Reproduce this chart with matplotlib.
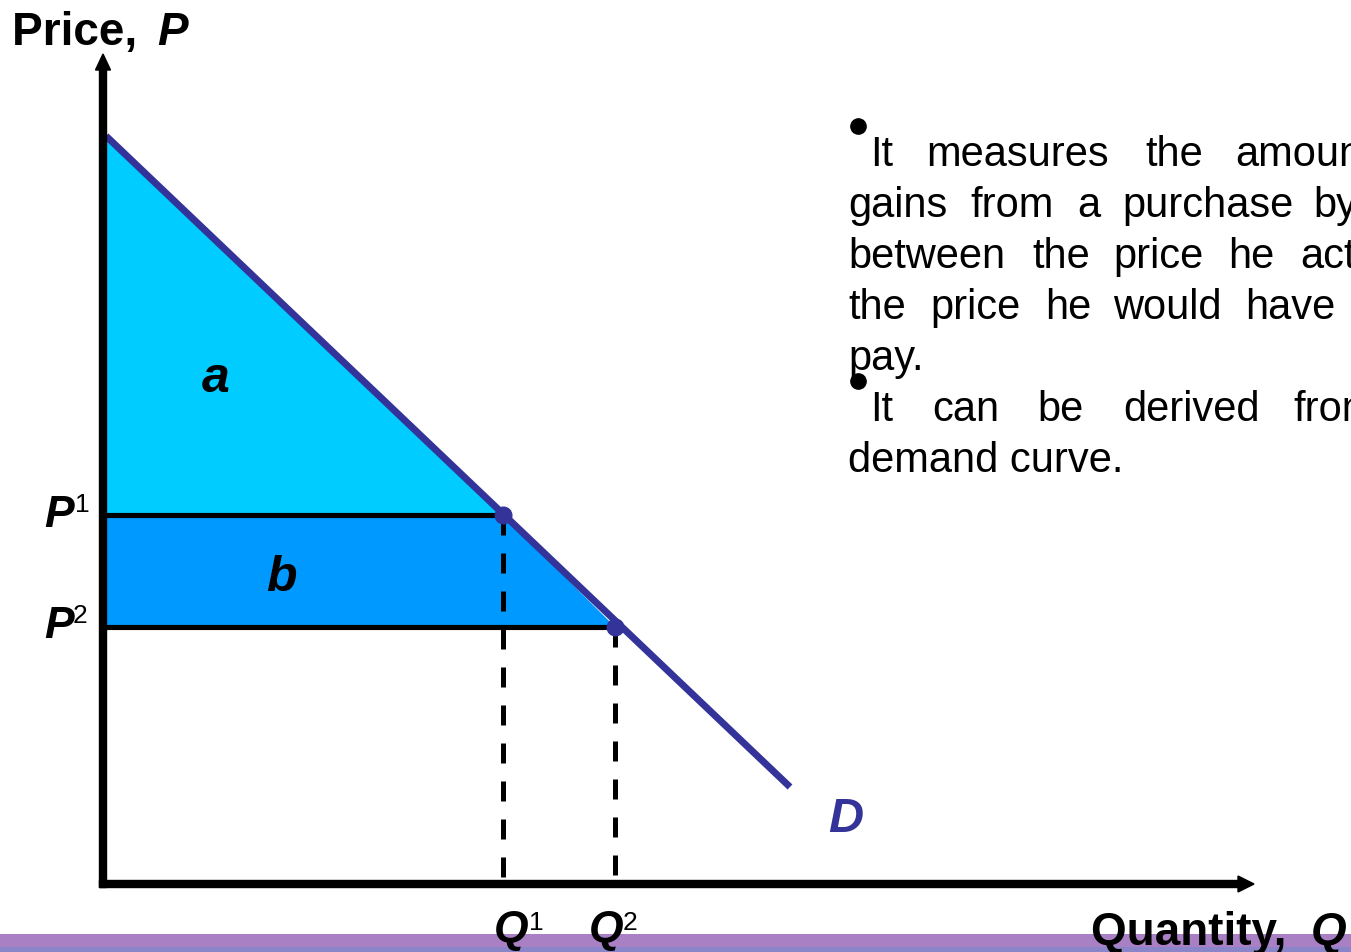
import matplotlib
matplotlib.use("Agg")
import matplotlib.pyplot as plt
from matplotlib.transforms import Affine2D
from matplotlib.patches import Polygon, Rectangle

plt.rcParams['font.family'] = ['Liberation Sans', 'DejaVu Sans']

# ---- data (in chart units) ----
demand_q = [0.03, 6.87]
demand_p = [7.48, 0.97]
q_points = [4.00, 5.12]      # Q1, Q2
p_points = [3.69, 2.57]      # P1, P2
q_labels = ["Q", "Q"]
q_sups = ["1", "2"]
p_labels = ["P", "P"]
p_sups = ["1", "2"]
area_labels = ["a", "b"]
y_axis_top = 8.30
x_axis_end = 11.51

text_lines = [
    ["It", "measures", "the", "amount"],
    ["gains", "from", "a", "purchase", "by"],
    ["between", "the", "price", "he", "actually"],
    ["the", "price", "he", "would", "have"],
    ["pay."],
    ["It", "can", "be", "derived", "from"],
    ["demand curve."],
]
word_x = [
    [870, 926, 1145, 1235],
    [848, 970, 1077, 1122, 1313],
    [848, 1032, 1113, 1228, 1300],
    [848, 930, 1045, 1113, 1245],
    [848],
    [870, 932, 1037, 1123, 1293],
    [848],
]
line_y = [166, 217, 268, 319, 370, 421, 472]
bullet_y = [127, 382]

W, H = 1351, 953
fig = plt.figure(figsize=(W / 100, H / 100), dpi=100)
ax = fig.add_axes([0, 0, 1, 1])
ax.set_xlim(-1.03, 12.48)
ax.set_ylim(-0.68, 8.85)
ax.axis('off')

pix = Affine2D().scale(1 / W, -1 / H).translate(0, 1) + fig.transFigure

navy = "#333399"
q1, q2 = q_points
p1, p2 = p_points

# shaded areas
ax.add_patch(Polygon([(0, demand_p[0]), (0, p1), (q1, p1)], closed=True,
                     facecolor="#00CCFF", edgecolor="none", zorder=1))
ax.add_patch(Polygon([(0, p1), (q1, p1), (q2, p2), (0, p2)], closed=True,
                     facecolor="#0099FF", edgecolor="none", zorder=1))

# horizontal price lines and dashed quantity lines
for q, p in zip(q_points, p_points):
    ax.plot([0, q], [p, p], color="black", lw=3.7, solid_capstyle="butt", zorder=2)
    ax.plot([q, q], [p, 0], color="black", lw=3.6, ls=(0, (4, 3.6)),
            dash_capstyle="butt", zorder=2)

# demand curve
ax.plot(demand_q, demand_p, color=navy, lw=5.0, solid_capstyle="butt", zorder=3)
ax.plot(q_points, p_points, 'o', color=navy, ms=12, zorder=4)

# axes arrows
ax.arrow(0, -0.035, 0, y_axis_top + 0.035, width=0.07, head_width=0.15,
         head_length=0.16, length_includes_head=True, color="black", zorder=5)
ax.arrow(-0.035, 0, x_axis_end + 0.035, 0, width=0.07, head_width=0.16,
         head_length=0.16, length_includes_head=True, color="black", zorder=5)

# bottom purple bar
ax.add_patch(Rectangle((0, 935), W, 13, transform=pix, clip_on=False,
                       facecolor="#AA80C4", edgecolor="none", zorder=0.5))
ax.add_patch(Rectangle((0, 948), W, 5, transform=pix, clip_on=False,
                       facecolor="#8A84C8", edgecolor="none", zorder=0.5))

# titles
ax.text(12, 45, "Price, ", transform=pix, fontsize=33, fontweight="bold",
        ha="left", va="baseline", zorder=10)
ax.text(157, 45, "P", transform=pix, fontsize=33, fontweight="bold",
        fontstyle="italic", ha="left", va="baseline", zorder=10)
ax.text(1091, 945, "Quantity, ", transform=pix, fontsize=33, fontweight="bold",
        ha="left", va="baseline", zorder=10)
ax.text(1311, 945, "Q", transform=pix, fontsize=33, fontweight="bold",
        fontstyle="italic", ha="left", va="baseline", zorder=10)

# P labels
for lab, sup, yb, xs in zip(p_labels, p_sups, [527, 638], [75, 73]):
    ax.text(44, yb, lab, transform=pix, fontsize=32, fontweight="bold",
            fontstyle="italic", ha="left", va="baseline", zorder=10)
    ax.text(xs, yb - 15, sup, transform=pix, fontsize=19,
            ha="left", va="baseline", zorder=10)

# Q labels
for lab, sup, xq, xs in zip(q_labels, q_sups, [494, 589], [529, 623]):
    ax.text(xq, 942, lab, transform=pix, fontsize=32, fontweight="bold",
            fontstyle="italic", ha="left", va="baseline", zorder=10)
    ax.text(xs, 930, sup, transform=pix, fontsize=19,
            ha="left", va="baseline", zorder=10)

# area labels
ax.text(202, 392, area_labels[0], transform=pix, fontsize=36, fontweight="bold",
        fontstyle="italic", ha="left", va="baseline", zorder=10)
ax.text(266, 591, area_labels[1], transform=pix, fontsize=36, fontweight="bold",
        fontstyle="italic", ha="left", va="baseline", zorder=10)
ax.text(828, 832, "D", transform=pix, fontsize=35, fontweight="bold",
        fontstyle="italic", color=navy, ha="left", va="baseline", zorder=10)

# bullet text block
for words, xs, yb in zip(text_lines, word_x, line_y):
    for w, x in zip(words, xs):
        ax.text(x, yb, w, transform=pix, fontsize=30, ha="left",
                va="baseline", zorder=10)
for yb in bullet_y:
    ax.plot([858], [yb], 'o', color="black", ms=11, transform=pix,
            clip_on=False, zorder=10)

fig.savefig("out.png", dpi=100)
